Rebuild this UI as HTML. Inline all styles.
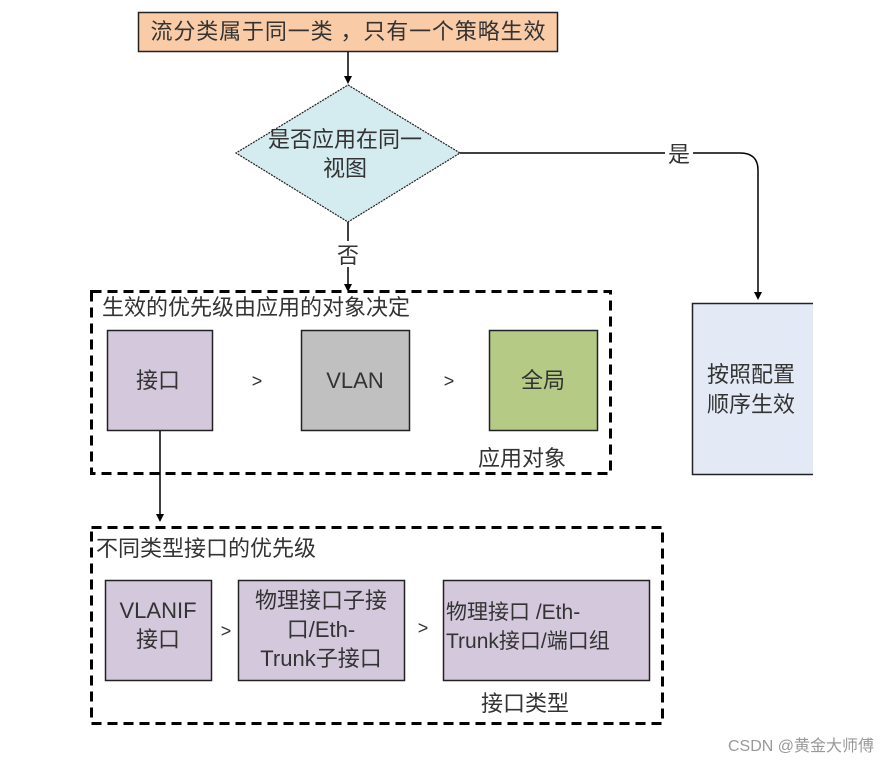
<!DOCTYPE html>
<html><head><meta charset="utf-8"><style>
html,body{margin:0;padding:0;background:#fff;}
svg{display:block;}
text{font-family:"Liberation Sans","Noto Sans CJK SC",sans-serif;fill:#333;}
</style></head><body>
<svg width="889" height="765" viewBox="0 0 889 765" xmlns="http://www.w3.org/2000/svg">
<rect x="138.5" y="12.5" width="419" height="39" fill="#f9cba7" stroke="#222" stroke-width="1.5"/>
<text x="348" y="39" font-size="22" text-anchor="middle" textLength="395" lengthAdjust="spacing">流分类属于同一类 ，只有一个策略生效</text>
<line x1="348" y1="52" x2="348" y2="80" stroke="#000" stroke-width="1.5"/>
<path d="M344,76 L352,76 L348,84 z" fill="#000"/>
<polygon points="348,85 460,153 348,222 236,153" fill="#d4ebf0" stroke="#222" stroke-width="1.2" stroke-dasharray="2,1"/>
<text x="345" y="147" font-size="22" text-anchor="middle">是否应用在同一</text>
<text x="345" y="176" font-size="22" text-anchor="middle">视图</text>
<path d="M460,153 L740,153 Q758,153 758,170 L758,296" fill="none" stroke="#000" stroke-width="1.5"/>
<path d="M754,292 L762,292 L758,300 z" fill="#000"/>
<rect x="665" y="142" width="28" height="24" fill="#fff"/>
<text x="679" y="162" font-size="22" text-anchor="middle">是</text>
<line x1="348" y1="222" x2="348" y2="288" stroke="#000" stroke-width="1.5"/>
<path d="M344,284 L352,284 L348,292 z" fill="#000"/>
<rect x="335" y="241" width="26" height="26" fill="#fff"/>
<text x="348" y="263" font-size="22" text-anchor="middle">否</text>
<rect x="692.5" y="303.5" width="125" height="171" fill="#e3eaf5" stroke="#222" stroke-width="1.5"/>
<rect x="813" y="300" width="10" height="180" fill="#fff"/>
<text x="751" y="382" font-size="22" text-anchor="middle">按照配置</text>
<text x="751" y="412" font-size="22" text-anchor="middle">顺序生效</text>
<rect x="91.5" y="291.5" width="519" height="182" fill="none" stroke="#000" stroke-width="3" stroke-dasharray="10,6"/>
<text x="102" y="315" font-size="22">生效的优先级由应用的对象决定</text>
<rect x="107.5" y="330.5" width="105" height="100" fill="#d4c8dd" stroke="#222" stroke-width="1.5"/>
<text x="158" y="388" font-size="22" text-anchor="middle">接口</text>
<text x="257" y="387" font-size="18" text-anchor="middle">&gt;</text>
<rect x="301.5" y="330.5" width="108" height="100" fill="#c0c0c0" stroke="#222" stroke-width="1.5"/>
<text x="355" y="388" font-size="22" text-anchor="middle">VLAN</text>
<text x="449" y="387" font-size="18" text-anchor="middle">&gt;</text>
<rect x="489.5" y="330.5" width="108" height="100" fill="#b5cb85" stroke="#222" stroke-width="1.5"/>
<text x="543" y="388" font-size="22" text-anchor="middle">全局</text>
<text x="522" y="466" font-size="22" text-anchor="middle">应用对象</text>
<line x1="160" y1="431" x2="160" y2="518" stroke="#000" stroke-width="1.5"/>
<path d="M156,514 L164,514 L160,522 z" fill="#000"/>
<rect x="91.5" y="527.5" width="571" height="196" fill="none" stroke="#000" stroke-width="3" stroke-dasharray="10,6"/>
<text x="96" y="556" font-size="22">不同类型接口的优先级</text>
<rect x="105.5" y="580.5" width="106" height="100" fill="#d4c8dd" stroke="#222" stroke-width="1.5"/>
<text x="158" y="618" font-size="22" text-anchor="middle">VLANIF</text>
<text x="158" y="647" font-size="22" text-anchor="middle">接口</text>
<text x="226" y="637" font-size="18" text-anchor="middle">&gt;</text>
<rect x="238.5" y="580.5" width="166" height="100" fill="#d4c8dd" stroke="#222" stroke-width="1.5"/>
<text x="321" y="608" font-size="22" text-anchor="middle">物理接口子接</text>
<text x="321" y="637" font-size="22" text-anchor="middle">口/Eth-</text>
<text x="321" y="666" font-size="22" text-anchor="middle">Trunk子接口</text>
<text x="423" y="634" font-size="18" text-anchor="middle">&gt;</text>
<rect x="443.5" y="580.5" width="206" height="100" fill="#d4c8dd" stroke="#222" stroke-width="1.5"/>
<text x="446" y="619" font-size="21">物理接口 /Eth-</text>
<text x="446" y="648" font-size="21">Trunk接口/端口组</text>
<text x="525" y="711" font-size="22" text-anchor="middle">接口类型</text>
<text x="874" y="751" font-size="16" text-anchor="end" style="fill:#999">CSDN @黄金大师傅</text>
</svg>
</body></html>
